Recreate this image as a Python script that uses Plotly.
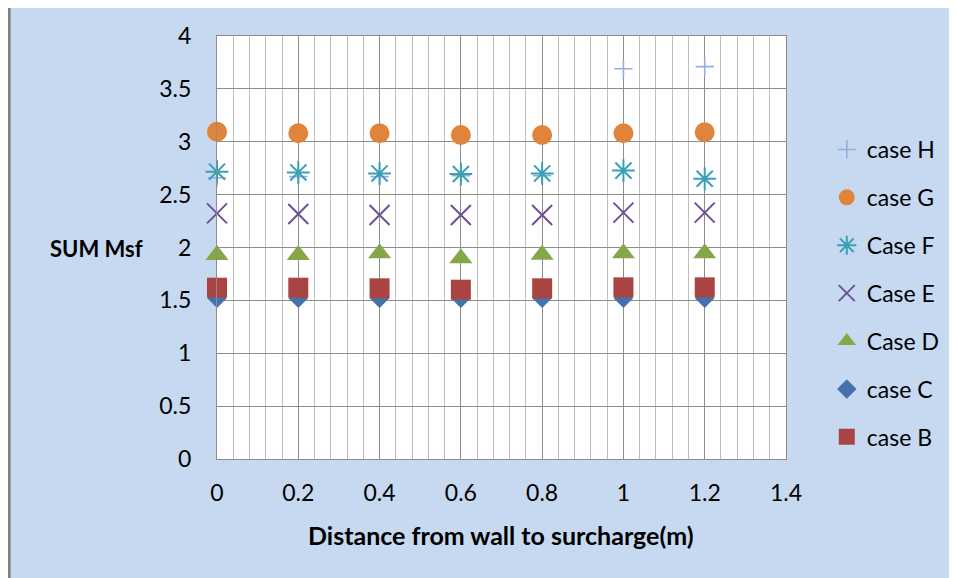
import plotly.graph_objects as go

x_vals = [0, 0.2, 0.4, 0.6, 0.8, 1.0, 1.2]
case_H = [2.66, 2.67, 2.67, 2.68, 2.68, 3.69, 3.71]
case_G = [3.095, 3.08, 3.08, 3.064, 3.064, 3.08, 3.09]
case_F = [2.717, 2.71, 2.70, 2.695, 2.70, 2.727, 2.65]
case_E = [2.323, 2.317, 2.307, 2.307, 2.307, 2.33, 2.33]
case_D = [1.93, 1.93, 1.945, 1.898, 1.932, 1.945, 1.945]
case_C = [1.52, 1.52, 1.52, 1.52, 1.52, 1.52, 1.52]
case_B = [1.62, 1.62, 1.614, 1.601, 1.614, 1.623, 1.623]

x_ticks = [0, 0.2, 0.4, 0.6, 0.8, 1, 1.2, 1.4]
y_ticks = [0, 0.5, 1, 1.5, 2, 2.5, 3, 3.5, 4]

FONT = "Lato"
W, H = 949, 570
L, R, T, B = 209, 781, 28, 451

series = [
    ("case H", case_H, dict(symbol="cross-thin-open", size=13, color="#94AEDB", line=dict(width=1.6, color="#94AEDB"))),
    ("case G", case_G, dict(symbol="circle", size=20, color="#DF843A")),
    ("Case F", case_F, dict(symbol="asterisk-open", size=19, color="#3AA0B6", line=dict(width=2, color="#3AA0B6"))),
    ("Case E", case_E, dict(symbol="x-thin-open", size=20, color="#6E5096", line=dict(width=2, color="#6E5096"))),
    ("Case D", case_D, dict(symbol="triangle-up", size=20, color="#86A64A")),
    ("case C", case_C, dict(symbol="diamond", size=15, color="#4572AA")),
    ("case B", case_B, dict(symbol="square", size=20, color="#A94442")),
]

fig = go.Figure()
for i, (name, ys, mk) in enumerate(series):
    fig.add_trace(go.Scatter(x=x_vals, y=ys, mode="markers", name=name,
                             marker=mk, legendgroup=f"g{i}", cliponaxis=False))

grid_major = "#8C8C8C"
grid_minor = "#BEBEBE"

fig.update_xaxes(range=[0, 1.4], tickvals=x_ticks, ticktext=[f"{v:g}" for v in x_ticks],
                 showgrid=True, gridcolor=grid_major, gridwidth=1.3,
                 minor=dict(dtick=0.04, tick0=0, showgrid=True, gridcolor=grid_minor, gridwidth=1),
                 showline=True, linecolor=grid_major, linewidth=1.3, mirror=True,
                 zeroline=False, ticks="", ticklabelstandoff=13,
                 tickfont=dict(family=FONT, size=23, color="#000000"))
fig.update_yaxes(range=[0, 4], tickvals=y_ticks, ticktext=[f"{v:g}" for v in y_ticks],
                 showgrid=True, gridcolor=grid_major, gridwidth=1.3,
                 showline=True, linecolor=grid_major, linewidth=1.3, mirror=True,
                 zeroline=False, ticks="", ticklabelstandoff=20,
                 tickfont=dict(family=FONT, size=23, color="#000000"))

def px_x(p):
    return (p - L) / (R - L)

def px_y(p):
    return (B - p) / (B - T)

fig.add_annotation(x=px_x(88), y=px_y(240), xref="paper", yref="paper",
                   xanchor="center", yanchor="middle",
                   text="<b>SUM Msf</b>", showarrow=False,
                   font=dict(family=FONT, size=22, color="#000000"))
fig.add_annotation(x=px_x(494), y=px_y(527), xref="paper", yref="paper",
                   xanchor="center", yanchor="middle",
                   text="<b>Distance from wall to surcharge(m)</b>", showarrow=False,
                   font=dict(family=FONT, size=25, color="#000000"))

# chart frame (left edge)
fig.add_shape(type="line", xref="paper", yref="paper",
              x0=px_x(0), x1=px_x(0), y0=px_y(0), y1=px_y(H),
              line=dict(color="#7F7F7F", width=3))

fig.update_layout(
    width=W, height=H,
    margin=dict(l=L, r=W - R, t=T, b=H - B, pad=0),
    paper_bgcolor="#C6D9F0", plot_bgcolor="#FFFFFF",
    font=dict(family=FONT, size=23, color="#000000"),
    showlegend=True,
    legend=dict(x=px_x(822), y=px_y(120), xanchor="left", yanchor="top",
                bgcolor="rgba(0,0,0,0)", borderwidth=0,
                font=dict(family=FONT, size=23, color="#000000"),
                tracegroupgap=15, traceorder="grouped", itemsizing="trace"),
)

fig.write_html("out.html")
